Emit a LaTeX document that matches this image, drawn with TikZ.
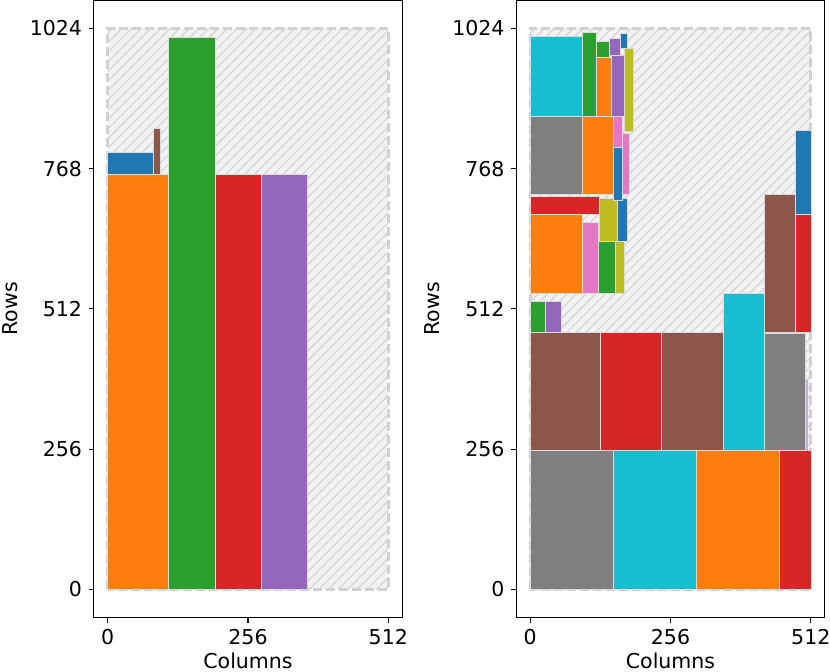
\documentclass[tikz,border=0pt]{standalone}
\usepackage{fontspec}
\setmainfont{DejaVu Sans}
\definecolor{tabblue}{HTML}{1F77B4}
\definecolor{taborange}{HTML}{FF7F0E}
\definecolor{tabgreen}{HTML}{2CA02C}
\definecolor{tabred}{HTML}{D62728}
\definecolor{tabpurple}{HTML}{9467BD}
\definecolor{tabbrown}{HTML}{8C564B}
\definecolor{tabpink}{HTML}{E377C2}
\definecolor{tabgray}{HTML}{7F7F7F}
\definecolor{tabolive}{HTML}{BCBD22}
\definecolor{tabcyan}{HTML}{17BECF}
\tikzset{
  blk/.style={draw=white!86!black, line width=0.9pt},
  hatchbg/.style={fill=black!5},
  hatchline/.style={draw=black!17, line width=1.2pt},
  boundary/.style={draw=black!18, line width=2.6pt, dash pattern=on 9pt off 4pt},
  spine/.style={draw=black, line width=1.1pt},
  ticklab/.style={font=\fontsize{20.5}{24}\selectfont, inner sep=0pt},
}
\newcommand\panelbg{%
  \fill[hatchbg] (0,0) rectangle (512,1024);
  \begin{scope}
    \clip (0,0) rectangle (512,1024);
    \foreach \k in {-60,...,30} \draw[hatchline] (\k*17.5,0) -- ++(1100,1100);
  \end{scope}
  \draw[boundary] (0,0) rectangle (512,1024);
}
\newcommand\panelaxes{%
  \draw[spine] (-25.6,-51.2) rectangle (537.6,1075.2);
  \foreach \v in {0,256,512} {
    \draw[spine] (\v,-51.2) -- ++(0pt,-5pt);
    \path (\v,-51.2) ++(0pt,-27pt) node[ticklab, anchor=base] {\v};
  }
  \foreach \v in {0,256,512,768,1024} {
    \draw[spine] (-25.6,\v) -- ++(-5pt,0pt);
    \path (-25.6,\v) ++(-11.5pt,-7.5pt) node[ticklab, anchor=base east] {\v};
  }
  \path (-25.6,512) ++(-76.2pt,0pt) node[ticklab, rotate=90, anchor=base] {Rows};
  \path (256,-51.2) ++(0pt,-50.9pt) node[ticklab, anchor=base] {Columns};
}
\begin{document}
\begin{tikzpicture}[x=1pt,y=1pt]
\useasboundingbox (0,0) rectangle (830,672);
% ---------------- left panel ----------------
\begin{scope}[shift={(107.7,82.5)}, x=0.548pt, y=0.548pt]
  \panelbg
  \draw[blk, fill=taborange] (0,0) rectangle (111,757);
  \draw[blk, fill=tabblue]   (0,757) rectangle (84,797);
  \draw[blk, fill=tabbrown]  (84,757) rectangle (97,841);
  \draw[blk, fill=tabgreen]  (111,0) rectangle (196,1008);
  \draw[blk, fill=tabred]    (196,0) rectangle (280,757);
  \draw[blk, fill=tabpurple] (280,0) rectangle (364,757);
  \panelaxes
\end{scope}
% ---------------- right panel ----------------
\begin{scope}[shift={(530.2,82.5)}, x=0.548pt, y=0.548pt]
  \panelbg
  % bottom row
  \draw[blk, fill=tabgray]   (0,0) rectangle (152,253);
  \draw[blk, fill=tabcyan]   (152,0) rectangle (303,253);
  \draw[blk, fill=taborange] (303,0) rectangle (455,253);
  \draw[blk, fill=tabred]    (455,0) rectangle (513,254);
  % second row
  \draw[blk, fill=tabbrown]  (0,253) rectangle (128,469);
  \draw[blk, fill=tabred]    (128,253) rectangle (240,469);
  \draw[blk, fill=tabbrown]  (240,253) rectangle (352,469);
  \draw[blk, fill=tabcyan]   (352,253) rectangle (428,541);
  \draw[blk, fill=tabgray]   (428,253) rectangle (503,468);
  \draw[draw=tabpurple!55, fill=tabpurple!70, line width=0.8pt] (503.8,253) rectangle (506.2,381);
  % right column
  \draw[blk, fill=tabbrown]  (428,469) rectangle (484,720);
  \draw[blk, fill=tabred]    (484,469) rectangle (513,684);
  \draw[blk, fill=tabblue]   (484,684) rectangle (513,837);
  % small left
  \draw[blk, fill=tabgreen]  (0,469) rectangle (28,525);
  \draw[blk, fill=tabpurple] (28,469) rectangle (57,525);
  % third cluster
  \draw[blk, fill=taborange] (0,541) rectangle (96,685);
  \draw[blk, fill=tabred]    (0,685) rectangle (127,717);
  \draw[blk, fill=tabpink]   (96,541) rectangle (124,670);
  \draw[blk, fill=tabgreen]  (124,541) rectangle (156,636);
  \draw[blk, fill=tabolive]  (156,541) rectangle (172,636);
  \draw[blk, fill=tabolive]  (127,636) rectangle (159,713);
  \draw[blk, fill=tabblue]   (159,636) rectangle (177,713);
  % second cluster
  \draw[blk, fill=tabgray]   (0,720) rectangle (96,864);
  \draw[blk, fill=taborange] (96,720) rectangle (152,864);
  \draw[blk, fill=tabblue]   (152,710) rectangle (169,807);
  \draw[blk, fill=tabpink]   (152,807) rectangle (169,864);
  \draw[blk, fill=tabpink]   (169,720) rectangle (181,833);
  % top cluster
  \draw[blk, fill=tabcyan]   (0,864) rectangle (96,1009);
  \draw[blk, fill=tabgreen]  (96,864) rectangle (120,1016);
  \draw[blk, fill=taborange] (120,864) rectangle (148,971);
  \draw[blk, fill=tabgreen]  (120,971) rectangle (144,1000);
  \draw[blk, fill=tabpurple] (148,864) rectangle (172,975);
  \draw[blk, fill=tabpurple] (144,975) rectangle (164,1005);
  \draw[blk, fill=tabblue]   (164,988) rectangle (177,1015);
  \draw[blk, fill=tabolive]  (172,835) rectangle (189,988);
  \panelaxes
\end{scope}
\end{tikzpicture}
\end{document}
